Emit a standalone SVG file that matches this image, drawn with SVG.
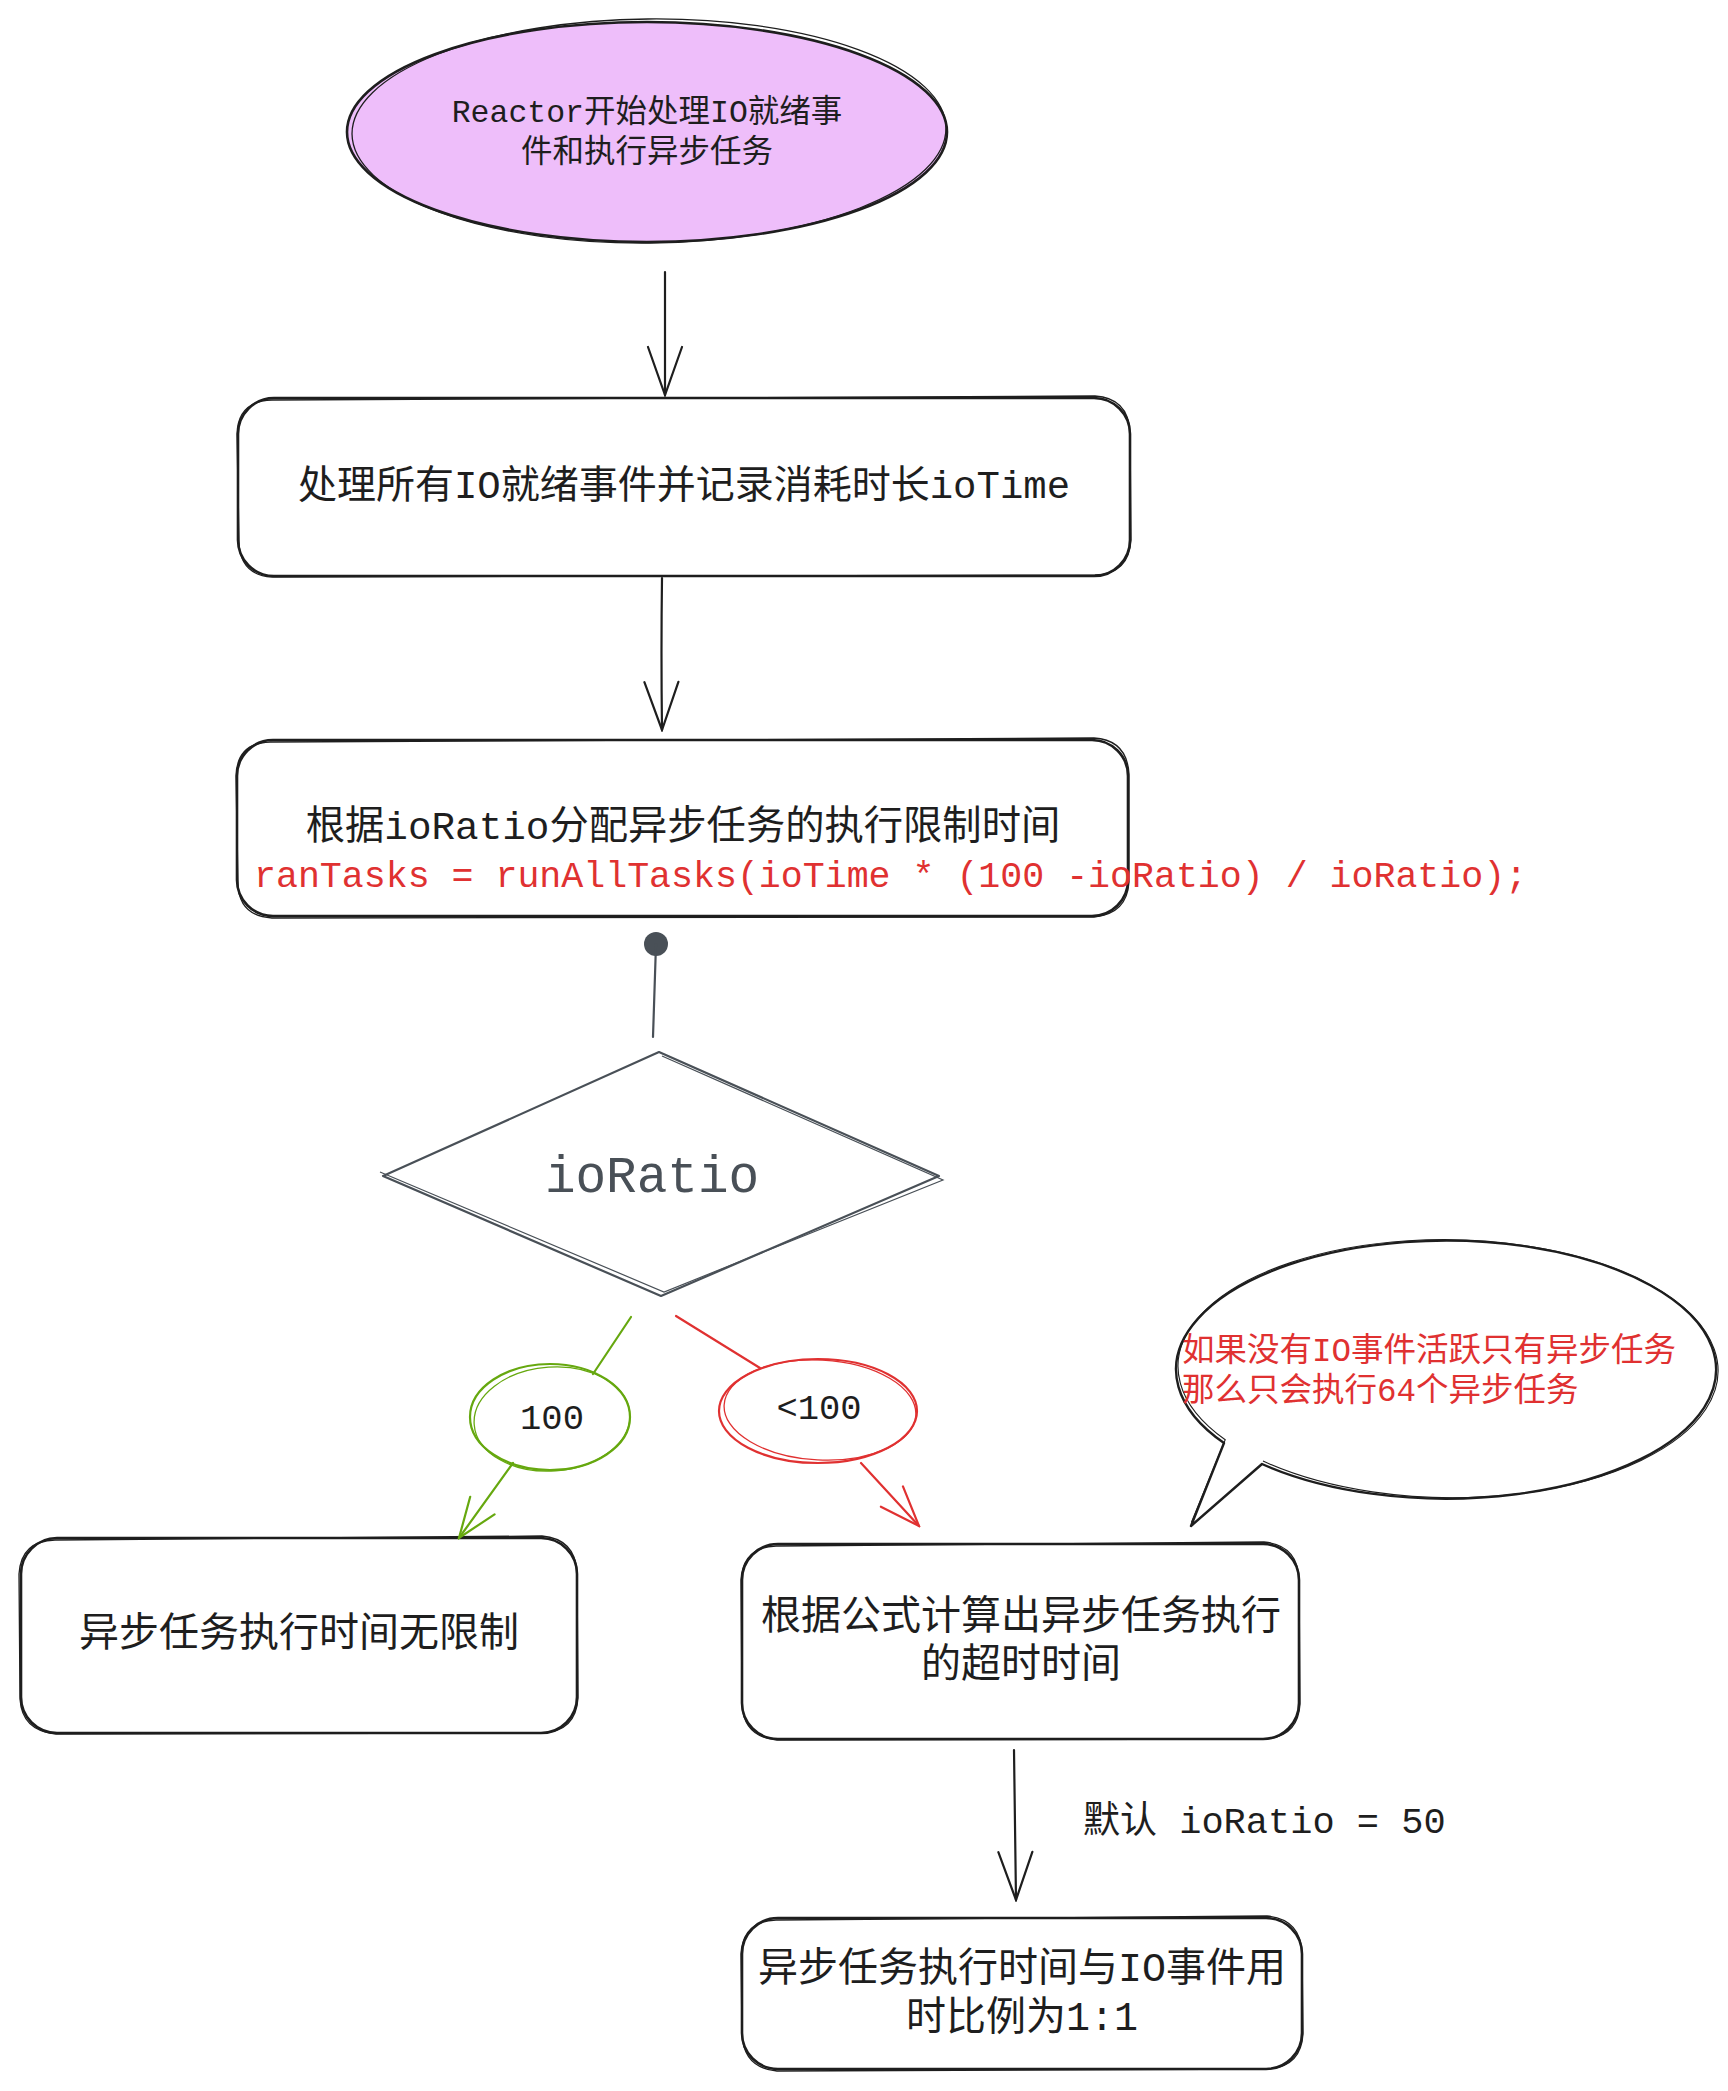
<svg xmlns="http://www.w3.org/2000/svg" width="1728" height="2091" viewBox="0 0 1728 2091">
<defs>
<style>
.t{font-family:"Liberation Mono","Noto Sans CJK SC",monospace;fill:#1e1e1e}
.ct{text-anchor:middle}
.red{fill:#e03131}
.box{fill:none;stroke:#1e1e1e;stroke-width:2.6}
.box2{fill:none;stroke:#1e1e1e;stroke-width:1.3}
.ln{fill:none;stroke:#1e1e1e;stroke-width:2.2;stroke-linecap:round}
.gl{fill:none;stroke:#66a80f;stroke-width:2.2;stroke-linecap:round}
.rl{fill:none;stroke:#e03131;stroke-width:2.2;stroke-linecap:round}
.gy{fill:none;stroke:#495057;stroke-width:2.2;stroke-linecap:round}
</style>
<marker id="ah" viewBox="0 0 52 40" refX="50" refY="20" markerUnits="userSpaceOnUse" markerWidth="52" markerHeight="40" orient="auto">
<path d="M2,3 L50,20 L2,37" fill="none" stroke="#1e1e1e" stroke-width="2.2" stroke-linecap="round"/>
</marker>
<marker id="ahg" viewBox="0 0 44 36" refX="42" refY="18" markerUnits="userSpaceOnUse" markerWidth="44" markerHeight="36" orient="auto">
<path d="M2,3 L42,18 L2,33" fill="none" stroke="#66a80f" stroke-width="2.2" stroke-linecap="round"/>
</marker>
<marker id="ahr" viewBox="0 0 44 36" refX="42" refY="18" markerUnits="userSpaceOnUse" markerWidth="44" markerHeight="36" orient="auto">
<path d="M2,3 L42,18 L2,33" fill="none" stroke="#e03131" stroke-width="2.2" stroke-linecap="round"/>
</marker>
</defs>
<rect width="1728" height="2091" fill="#ffffff"/>

<g id="start">
<ellipse cx="647" cy="132" rx="300" ry="110" fill="#eebefa" stroke="#1e1e1e" stroke-width="2.6"/>
<ellipse cx="649" cy="131" rx="297" ry="112" transform="rotate(-0.6 649 131)" class="box2"/>
<text class="t ct" font-size="31.5" x="647" y="122">Reactor开始处理IO就绪事</text>
<text class="t ct" font-size="31.5" x="647" y="162">件和执行异步任务</text>
</g>

<g id="process-io">
<rect x="238" y="398" width="892" height="178" rx="36" class="box"/>
<path d="M272,400 L1095,396 Q1128,398 1130,432 L1131,540 Q1129,574 1095,575 L272,577 Q240,575 239,542 L237,434 Q238,401 272,400" class="box2"/>
<text class="t ct" font-size="39" x="684" y="498">处理所有IO就绪事件并记录消耗时长ioTime</text>
</g>

<g id="allocate">
<rect x="237" y="740" width="891" height="176" rx="36" class="box"/>
<path d="M270,742 L1094,738 Q1127,740 1129,774 L1129,882 Q1127,914 1094,917 L272,918 Q239,916 238,884 L236,776 Q237,743 270,742" class="box2"/>
<text class="t ct" font-size="39.3" x="683" y="839">根据ioRatio分配异步任务的执行限制时间</text>
<text class="t red" font-size="36.6" x="254" y="887">ranTasks = runAllTasks(ioTime * (100 -ioRatio) / ioRatio);</text>
</g>

<g id="decision">
<path d="M659,1052 L939,1176 L661,1296 L383,1176 Z" fill="none" stroke="#495057" stroke-width="2.2" stroke-linejoin="round"/>
<path d="M662,1056 L943,1180 L664,1292 L380,1172" fill="none" stroke="#495057" stroke-width="1.2"/>
<text class="t ct" font-size="51" x="652" y="1192" style="fill:#495057">ioRatio</text>
</g>

<g id="label-100">
<ellipse cx="550" cy="1417" rx="80" ry="53" class="gl"/>
<ellipse cx="552" cy="1419" rx="78" ry="52" transform="rotate(-4 552 1419)" fill="none" stroke="#66a80f" stroke-width="1.3"/>
<text class="t ct" font-size="35.5" x="552" y="1429">100</text>
</g>

<g id="label-lt100">
<ellipse cx="818" cy="1411" rx="99" ry="52" class="rl"/>
<ellipse cx="820" cy="1410" rx="96" ry="50" transform="rotate(3 820 1410)" fill="none" stroke="#e03131" stroke-width="1.3"/>
<text class="t ct" font-size="35.5" x="819" y="1419">&lt;100</text>
</g>

<g id="no-limit">
<rect x="21" y="1538" width="556" height="195" rx="36" class="box"/>
<path d="M55,1540 L542,1536 Q575,1539 577,1572 L578,1698 Q576,1731 543,1733 L56,1734 Q22,1731 20,1699 L19,1574 Q21,1541 55,1540" class="box2"/>
<text class="t ct" font-size="40" x="299" y="1646">异步任务执行时间无限制</text>
</g>

<g id="compute-timeout">
<rect x="742" y="1544" width="557" height="195" rx="36" class="box"/>
<path d="M776,1546 L1264,1542 Q1297,1545 1299,1578 L1300,1704 Q1298,1737 1265,1739 L777,1740 Q744,1737 742,1705 L741,1580 Q743,1547 776,1546" class="box2"/>
<text class="t ct" font-size="40" x="1021" y="1629">根据公式计算出异步任务执行</text>
<text class="t ct" font-size="40" x="1021" y="1677">的超时时间</text>
</g>

<g id="note">
<path d="M1262,1464 A270,129 0 1 0 1224,1443 L1191,1526 Z" fill="none" stroke="#1e1e1e" stroke-width="2.4" stroke-linejoin="round"/>
<path d="M1262,1464 A270,129 0 1 0 1224,1443 L1191,1526" transform="translate(2,-1) rotate(0.6 1441 1368)" fill="none" stroke="#1e1e1e" stroke-width="1.1"/>
<text class="t red" font-size="32.5" x="1182" y="1361">如果没有IO事件活跃只有异步任务</text>
<text class="t red" font-size="32.5" x="1182" y="1401">那么只会执行64个异步任务</text>
</g>

<g id="one-to-one">
<rect x="742" y="1918" width="560" height="151" rx="36" class="box"/>
<path d="M776,1920 L1267,1916 Q1300,1919 1302,1952 L1303,2034 Q1301,2067 1268,2069 L777,2071 Q744,2068 742,2035 L741,1954 Q743,1921 776,1920" class="box2"/>
<text class="t ct" font-size="40" x="1022" y="1981">异步任务执行时间与IO事件用</text>
<text class="t ct" font-size="40" x="1022" y="2030">时比例为1:1</text>
</g>

<g id="connectors">
<path d="M665,272 L665,395" class="ln" marker-end="url(#ah)"/>
<path d="M662,578 Q661,650 662,730" class="ln" marker-end="url(#ah)"/>
<circle cx="656" cy="944" r="12" fill="#495057"/>
<path d="M656,944 L653,1037" class="gy"/>
<path d="M631,1317 L593,1374" class="gl"/>
<path d="M513,1463 L459,1538" class="gl" marker-end="url(#ahg)"/>
<path d="M676,1316 L760,1368" class="rl"/>
<path d="M861,1463 L919,1526" class="rl" marker-end="url(#ahr)"/>
<path d="M1014,1750 L1016,1900" class="ln" marker-end="url(#ah)"/>
<text class="t" font-size="37" x="1083" y="1833">默认 ioRatio = 50</text>
</g>
</svg>
